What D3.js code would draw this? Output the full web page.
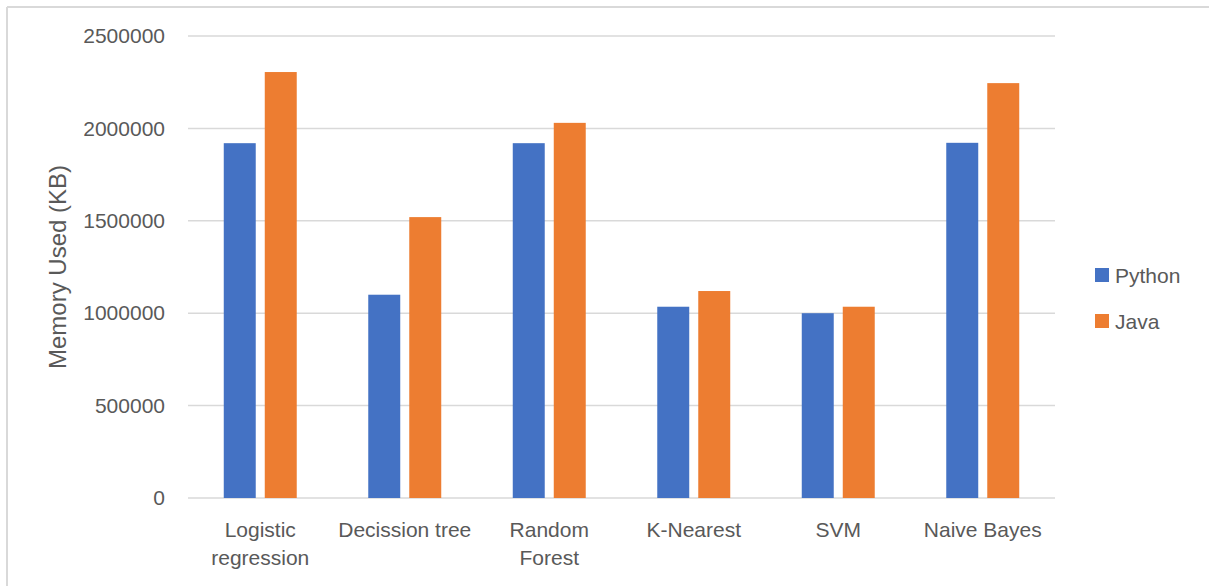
<!DOCTYPE html>
<html>
<head>
<meta charset="utf-8">
<script src="https://cdn.jsdelivr.net/npm/d3@7"></script>
<style>
  html, body { margin: 0; padding: 0; background: #fff; }
  svg { display: block; font-family: "Liberation Sans", Arial, sans-serif; }
</style>
</head>
<body>
<svg id="chart" width="1209" height="586"></svg>
<script>
// Memory usage per algorithm, Python vs Java
const categories = [["Logistic", "regression"], ["Decission tree"], ["Random", "Forest"], ["K-Nearest"], ["SVM"], ["Naive Bayes"]];
const seriesNames = ["Python", "Java"];
const pythonValues = [1920000, 1100000, 1920000, 1035000, 1000000, 1922000];
const javaValues = [2305000, 1520000, 2030000, 1120000, 1035000, 2245000];
const yTicks = [0, 500000, 1000000, 1500000, 2000000, 2500000];
const colors = ["#4472C4", "#ED7D31"];

const svg = d3.select("#chart");
const textColor = "#595959";
const gridColor = "#d9d9d9";

// chart frame (left and top edges)
svg.append("line").attr("x1", 7).attr("x2", 7).attr("y1", 7).attr("y2", 586)
  .attr("stroke", gridColor).attr("stroke-width", 2);
svg.append("line").attr("x1", 7).attr("x2", 1209).attr("y1", 7).attr("y2", 7)
  .attr("stroke", gridColor).attr("stroke-width", 2);

const plot = { left: 188, right: 1055, top: 36, bottom: 498 };

const x = d3.scaleBand()
  .domain(d3.range(categories.length))
  .range([plot.left, plot.right])
  .paddingInner(0).paddingOuter(0);

const xInner = d3.scaleBand()
  .domain(seriesNames)
  .range([0, x.bandwidth()])
  .paddingInner(0.22).paddingOuter(0.872);

const y = d3.scaleLinear().domain([0, 2500000]).range([plot.bottom, plot.top]);

// gridlines
svg.append("g")
  .selectAll("line")
  .data(yTicks)
  .join("line")
  .attr("x1", plot.left).attr("x2", plot.right)
  .attr("y1", d => y(d)).attr("y2", d => y(d))
  .attr("stroke", gridColor).attr("stroke-width", 1.5);

// y axis labels
const yAxis = d3.axisLeft(y).tickValues(yTicks).tickFormat(d3.format("d")).tickSize(0).tickPadding(0);
const yg = svg.append("g").attr("transform", "translate(165,0)").call(yAxis);
yg.select(".domain").remove();
yg.selectAll("text").attr("fill", textColor).attr("font-size", 21)
  .attr("font-family", "'Liberation Sans', Arial, sans-serif");

// bars
const data = categories.map((c, i) => ({ i, values: [pythonValues[i], javaValues[i]] }));
const groups = svg.append("g").selectAll("g")
  .data(data)
  .join("g")
  .attr("transform", d => `translate(${x(d.i)},0)`);

groups.selectAll("rect")
  .data(d => d.values.map((v, k) => ({ name: seriesNames[k], value: v, k })))
  .join("rect")
  .attr("x", d => xInner(d.name))
  .attr("width", xInner.bandwidth())
  .attr("y", d => y(d.value))
  .attr("height", d => y(0) - y(d.value))
  .attr("fill", d => colors[d.k]);

// x axis category labels
const xLabels = svg.append("g");
categories.forEach((lines, i) => {
  const t = xLabels.append("text")
    .attr("x", x(i) + x.bandwidth() / 2)
    .attr("y", 537)
    .attr("text-anchor", "middle")
    .attr("fill", textColor)
    .attr("font-size", 21);
  lines.forEach((ln, j) => {
    t.append("tspan").attr("x", x(i) + x.bandwidth() / 2).attr("dy", j === 0 ? 0 : 28).text(ln);
  });
});

// y axis title
svg.append("text")
  .attr("transform", `translate(66,${(plot.top + plot.bottom) / 2}) rotate(-90)`)
  .attr("text-anchor", "middle")
  .attr("fill", textColor)
  .attr("font-size", 24)
  .text("Memory Used (KB)");

// legend
const legend = svg.append("g");
seriesNames.forEach((name, k) => {
  const cy = 275 + k * 46;
  legend.append("rect").attr("x", 1095).attr("y", cy - 7).attr("width", 14).attr("height", 14).attr("fill", colors[k]);
  legend.append("text").attr("x", 1115).attr("y", cy + 7.5).attr("fill", textColor)
    .attr("font-size", 21).text(name);
});
</script>
</body>
</html>
